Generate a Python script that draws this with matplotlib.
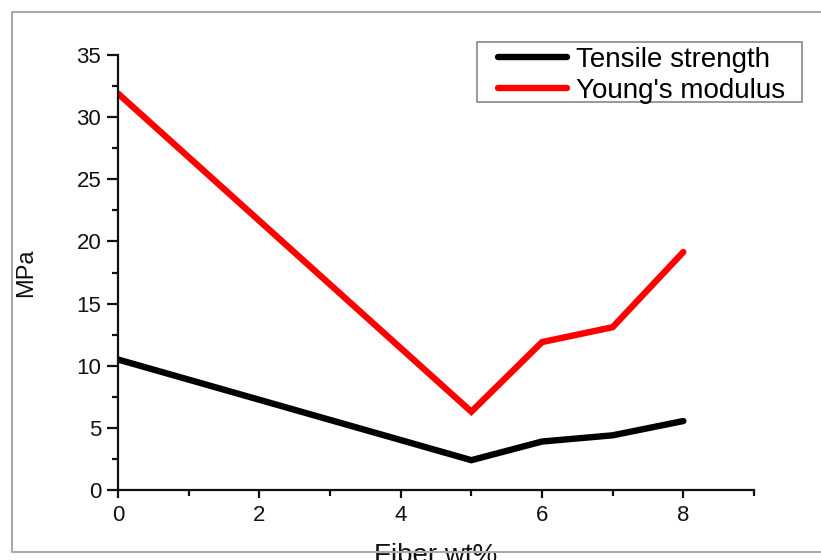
import matplotlib
matplotlib.use("Agg")
import matplotlib.pyplot as plt
from matplotlib.patches import Rectangle
from matplotlib.lines import Line2D
from matplotlib.ticker import MultipleLocator

plt.rcParams['font.family'] = ['Liberation Sans', 'DejaVu Sans']

fiber_wt = [0, 5, 6, 7, 8]
tensile_strength = [10.5, 2.4, 3.9, 4.4, 5.55]
youngs_modulus = [31.9, 6.3, 11.9, 13.1, 19.15]
x_ticks = [0, 2, 4, 6, 8]

W, H = 821, 560
fig = plt.figure(figsize=(W / 100, H / 100), dpi=100)
ax = fig.add_axes([118 / W, 1 - 490 / H, (754 - 118) / W, (490 - 55) / H])

ax.plot(fiber_wt, tensile_strength, color='black', lw=4.6, solid_capstyle='round',
        solid_joinstyle='miter', label='Tensile strength')
ax.plot(fiber_wt, youngs_modulus, color='#ff0000', lw=4.6, solid_capstyle='round',
        solid_joinstyle='miter', label="Young's modulus")

ax.set_xlim(0, 9)
ax.set_ylim(0, 35)
ax.set_xticks(x_ticks)
ax.set_xticklabels([str(t) for t in x_ticks])
ax.xaxis.set_minor_locator(MultipleLocator(1))
ax.yaxis.set_major_locator(MultipleLocator(5))
ax.yaxis.set_minor_locator(MultipleLocator(2.5))

for s in ['top', 'right']:
    ax.spines[s].set_visible(False)
for s in ['left', 'bottom']:
    ax.spines[s].set_linewidth(1.6)
    ax.spines[s].set_color('#111111')
ax.tick_params(which='both', direction='out', width=1.6, colors='#111111', labelsize=16)
ax.tick_params(axis='y', which='major', length=8, pad=4)
ax.tick_params(axis='y', which='minor', length=4)
ax.tick_params(axis='x', which='major', length=6, pad=5)
ax.tick_params(axis='x', which='minor', length=4)

ax.set_xlabel('Fiber wt%', fontsize=20, labelpad=12, color='#111111')
ax.set_ylabel('MPa', fontsize=17, labelpad=28, color='#111111')

leg = fig.legend(handles=ax.get_lines(), loc='upper left',
                 bbox_to_anchor=(498 / W, 1 - 47 / H), borderaxespad=0,
                 fontsize=20, frameon=False, handlelength=2.5,
                 handletextpad=0.3, labelspacing=0.17, borderpad=0)
fig.patches.append(Rectangle((477 / W, 1 - 102 / H), (802 - 477) / W, 60 / H,
                             transform=fig.transFigure, facecolor='none',
                             edgecolor='#888888', lw=1.2, zorder=5))

# outer image frame (left, top, bottom)
fx0, fy0, fy1 = 12 / W, 1 - 552 / H, 1 - 12 / H
fig.lines.append(Line2D([1.0, fx0, fx0, 1.0], [fy1, fy1, fy0, fy0],
                        transform=fig.transFigure, color='#aaaaaa', lw=1.5, zorder=11))

fig.savefig('out.png', dpi=100)
